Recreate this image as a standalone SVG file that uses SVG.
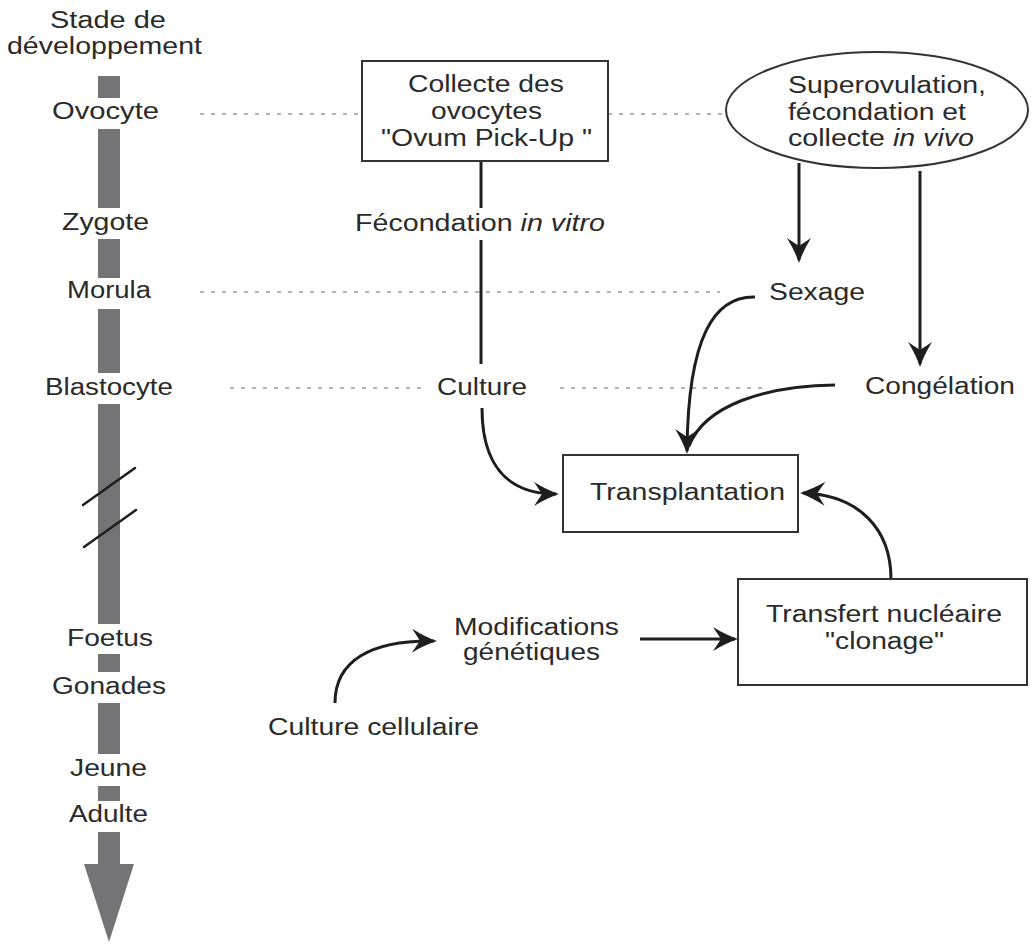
<svg xmlns="http://www.w3.org/2000/svg" width="1031" height="949" viewBox="0 0 1031 949">
<style>
text{font-family:"Liberation Sans",Arial,sans-serif;font-size:23px;fill:#2a2a2a}
.bar{fill:#747476}
.dash{stroke:#9a9a9a;stroke-width:1.5;stroke-dasharray:4 7;fill:none}
.box{fill:#fff;stroke:#333;stroke-width:2}
.con{fill:none;stroke:#1e1e1e;stroke-width:3}
.slash{stroke:#1e1e1e;stroke-width:2.5;stroke-linecap:round}
</style>
<defs>
<marker id="ah" markerUnits="userSpaceOnUse" orient="auto" overflow="visible" refX="0" refY="0" markerWidth="30" markerHeight="30">
<path d="M3,0 Q-9,-4 -22,-12 L-14,0 L-22,12 Q-9,4 3,0 Z" fill="#1e1e1e"/>
</marker>
</defs>
<rect width="1031" height="949" fill="#fff"/>

<g id="timeline">
<text x="50" y="28" textLength="116" lengthAdjust="spacingAndGlyphs">Stade de</text>
<text x="7" y="54" textLength="195" lengthAdjust="spacingAndGlyphs">développement</text>
<rect class="bar" x="98" y="76" width="22" height="22"/>
<text x="52" y="119" textLength="107" lengthAdjust="spacingAndGlyphs">Ovocyte</text>
<rect class="bar" x="98" y="129" width="22" height="79"/>
<text x="62" y="230" textLength="87" lengthAdjust="spacingAndGlyphs">Zygote</text>
<rect class="bar" x="98" y="239" width="22" height="39"/>
<text x="67" y="298" textLength="84" lengthAdjust="spacingAndGlyphs">Morula</text>
<rect class="bar" x="98" y="309" width="22" height="64"/>
<text x="45" y="395" textLength="128" lengthAdjust="spacingAndGlyphs">Blastocyte</text>
<rect class="bar" x="98" y="404" width="22" height="220"/>
<line class="slash" x1="83" y1="505" x2="135" y2="468"/>
<line class="slash" x1="84" y1="547" x2="136" y2="510"/>
<text x="67" y="646" textLength="86" lengthAdjust="spacingAndGlyphs">Foetus</text>
<rect class="bar" x="98" y="654" width="22" height="18"/>
<text x="52" y="694" textLength="114" lengthAdjust="spacingAndGlyphs">Gonades</text>
<rect class="bar" x="98" y="703" width="22" height="51"/>
<text x="70" y="776" textLength="77" lengthAdjust="spacingAndGlyphs">Jeune</text>
<rect class="bar" x="98" y="786" width="22" height="15"/>
<text x="69" y="822" textLength="79" lengthAdjust="spacingAndGlyphs">Adulte</text>
<polygon class="bar" points="98,832 120,832 120,864 134,864 109,942 84,864 98,864"/>
</g>

<g id="guides">
<line class="dash" x1="200" y1="114" x2="362" y2="114"/>
<line class="dash" x1="608" y1="114" x2="726" y2="114"/>
<line class="dash" x1="200" y1="292" x2="720" y2="292"/>
<line class="dash" x1="230" y1="388" x2="428" y2="388"/>
<line class="dash" x1="560" y1="388" x2="765" y2="388"/>
</g>

<g id="connectors">
<path class="con" d="M481,161 L481,208"/>
<path class="con" d="M481,240 L481,364"/>
<path class="con" d="M482,408 C482,462 505,494 556,494" marker-end="url(#ah)"/>
<path class="con" d="M799,163 L799,260" marker-end="url(#ah)"/>
<path class="con" d="M920,171 L920,364" marker-end="url(#ah)"/>
<path class="con" d="M755,297 C715,296 688,335 687,451" marker-end="url(#ah)"/>
<path class="con" d="M835,385 C765,386 705,405 689,446"/>
<path class="con" d="M891,579 C891,530 860,495 803,493" marker-end="url(#ah)"/>
<path class="con" d="M640,639 L735,639" marker-end="url(#ah)"/>
<path class="con" d="M335,703 C335,660 372,640 434,641" marker-end="url(#ah)"/>
</g>

<g id="collecte">
<rect class="box" x="362" y="61" width="246" height="100"/>
<text x="408" y="92" textLength="156" lengthAdjust="spacingAndGlyphs">Collecte des</text>
<text x="431" y="119" textLength="111" lengthAdjust="spacingAndGlyphs">ovocytes</text>
<text x="381" y="146" textLength="211" lengthAdjust="spacingAndGlyphs">"Ovum Pick-Up "</text>
</g>

<g id="superovulation">
<ellipse class="box" cx="877" cy="110" rx="151" ry="58" stroke-width="1.6"/>
<text x="788" y="93" textLength="198" lengthAdjust="spacingAndGlyphs">Superovulation,</text>
<text x="788" y="120" textLength="178" lengthAdjust="spacingAndGlyphs">fécondation et</text>
<text x="788" y="146" textLength="186" lengthAdjust="spacingAndGlyphs">collecte <tspan font-style="italic">in vivo</tspan></text>
</g>

<g id="fecondation">
<text x="355" y="231" textLength="250" lengthAdjust="spacingAndGlyphs">Fécondation <tspan font-style="italic">in vitro</tspan></text>
</g>

<g id="sexage">
<text x="769" y="300" textLength="96" lengthAdjust="spacingAndGlyphs">Sexage</text>
</g>

<g id="culture">
<text x="437" y="395" textLength="90" lengthAdjust="spacingAndGlyphs">Culture</text>
</g>

<g id="congelation">
<text x="865" y="394" textLength="150" lengthAdjust="spacingAndGlyphs">Congélation</text>
</g>

<g id="transplantation">
<rect class="box" x="563" y="455" width="235" height="77"/>
<text x="590" y="500" textLength="195" lengthAdjust="spacingAndGlyphs">Transplantation</text>
</g>

<g id="transfert">
<rect class="box" x="738" y="579" width="289" height="106"/>
<text x="766" y="622" textLength="236" lengthAdjust="spacingAndGlyphs">Transfert nucléaire</text>
<text x="825" y="649" textLength="119" lengthAdjust="spacingAndGlyphs">"clonage"</text>
</g>

<g id="modifications">
<text x="454" y="635" textLength="165" lengthAdjust="spacingAndGlyphs">Modifications</text>
<text x="463" y="660" textLength="137" lengthAdjust="spacingAndGlyphs">génétiques</text>
</g>

<g id="culture-cellulaire">
<text x="268" y="735" textLength="211" lengthAdjust="spacingAndGlyphs">Culture cellulaire</text>
</g>
</svg>
